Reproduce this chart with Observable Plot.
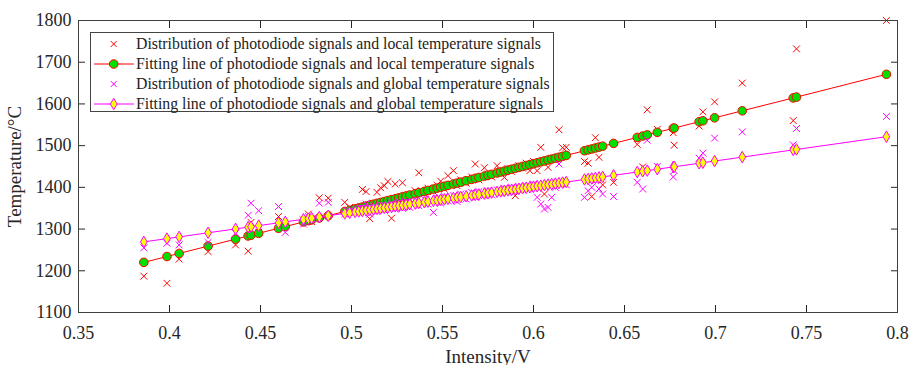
<!DOCTYPE html>
<html><head><meta charset="utf-8">
<script src="https://cdn.jsdelivr.net/npm/d3@7"></script>
<script src="https://cdn.jsdelivr.net/npm/@observablehq/plot@0.6"></script>
<style>
body{margin:0;background:#fff;}
#wrap{position:relative;width:917px;height:365px;font-family:"Liberation Serif","Times New Roman",serif;}
#legend{position:absolute;left:90px;top:32px;width:464px;height:80px;border:1px solid #444;background:#fff;box-sizing:border-box;}
.row{position:absolute;left:0;height:20px;display:flex;align-items:center;font-size:15.8px;color:#222;white-space:nowrap;}
.row svg{width:45px;height:20px;flex:none;}
</style>
</head><body>
<div id="wrap"></div>
<script>
const seriesNames = [
  "Distribution of photodiode signals and local temperature signals",
  "Fitting line of photodiode signals and local temperature signals",
  "Distribution of photodiode signals and global temperature signals",
  "Fitting line of photodiode signals and global temperature signals"
];
const xTicks = [0.35,0.4,0.45,0.5,0.55,0.6,0.65,0.7,0.75,0.8];
const xTickLabels = ["0.35","0.4","0.45","0.5","0.55","0.6","0.65","0.7","0.75","0.8"];
const yTicks = [1100,1200,1300,1400,1500,1600,1700,1800];
const yTickLabels = ["1100","1200","1300","1400","1500","1600","1700","1800"];

const intensity = [0.3859,0.3986,0.4053,0.4212,0.4363,0.4432,0.4448,0.4490,0.4599,0.4636,0.4736,0.4763,0.4781,0.4823,0.4872,0.4963,
0.499,0.502,0.504,0.506,0.508,0.510,0.512,0.514,0.516,0.518,
0.520,0.522,0.524,0.526,0.528,0.530,0.532,0.535,0.537,0.540,
0.542,0.545,0.547,0.549,0.551,0.553,0.556,0.558,0.560,0.563,
0.566,0.568,0.570,0.573,0.575,0.577,0.580,0.582,0.584,0.586,
0.588,0.590,0.592,0.594,0.596,0.598,0.600,0.602,0.604,0.606,
0.608,0.610,0.612,0.614,0.616,0.618,
0.628,0.630,0.632,0.634,0.636,0.638,0.644,
0.657,0.660,0.6625,0.668,0.6768,0.6773,0.691,0.6931,0.6995,0.7147,0.7427,0.7445,0.7939];

const localTemp = [1187,1170,1228,1246,1262,1247,1316,1292,1330,1305,1322,1336,1318,1375,1374,1364,
1352,1346,1340,1395,1390,1325,1362,1388,1399,1404,
1414,1326,1408,1370,1411,1380,1372,1392,1435,1385,
1398,1390,1405,1415,1396,1428,1440,1404,1418,1410,
1425,1456,1418,1447,1432,1425,1452,1440,1424,1445,
1438,1380,1452,1446,1458,1440,1462,1440,1496,1384,
1448,1470,1466,1538,1495,1496,
1462,1458,1378,1519,1472,1406,1412,
1503,1449,1586,1539,1531,1501,1547,1581,1605,1650,1560,1732,1800];

const localFit = [1220.2,1234.2,1241.6,1259.2,1275.9,1283.5,1285.3,1289.9,1301.9,1306.0,1317.1,1320.1,1322.0,1326.7,1332.1,1342.2,
1345.1,1348.5,1350.7,1352.9,1355.1,1357.3,1359.5,1361.7,1363.9,1366.1,
1368.3,1370.5,1372.7,1375.0,1377.2,1379.4,1381.6,1384.9,1387.1,1390.4,
1392.6,1395.9,1398.2,1400.4,1402.6,1404.8,1408.1,1410.3,1412.5,1415.9,
1419.2,1421.4,1423.6,1426.9,1429.1,1431.3,1434.6,1436.9,1439.1,1441.3,
1443.5,1445.7,1447.9,1450.1,1452.3,1454.5,1456.7,1458.9,1461.2,1463.4,
1465.6,1467.8,1470.0,1472.2,1474.4,1476.6,
1487.7,1489.9,1492.1,1494.3,1496.5,1498.7,1505.4,
1519.7,1523.0,1525.8,1531.9,1541.6,1542.2,1557.3,1559.6,1566.7,1583.5,1614.4,1616.4,1671.0];

const globalTemp = [1255,1266,1262,1268,1290,1333,1362,1344,1354,1292,1312,1330,1325,1362,1364,1336,
1340,1344,1350,1352,1360,1336,1355,1342,1358,1345,
1356,1362,1348,1365,1350,1366,1352,1368,1356,1372,
1360,1340,1375,1362,1378,1368,1380,1366,1384,1372,
1388,1376,1390,1380,1392,1382,1394,1386,1398,1388,
1400,1392,1402,1394,1404,1396,1408,1376,1360,1348,
1352,1376,1400,1456,1412,1406,
1376,1392,1400,1416,1396,1384,1378,
1412,1396,1513,1450,1425,1440,1470,1482,1518,1533,1502,1541,1570];

const globalFit = [1269.3,1277.1,1281.2,1291.1,1300.4,1304.7,1305.7,1308.3,1315.0,1317.3,1323.5,1325.1,1326.2,1328.8,1331.9,1337.5,
1339.1,1341.0,1342.2,1343.5,1344.7,1345.9,1347.2,1348.4,1349.7,1350.9,
1352.1,1353.4,1354.6,1355.8,1357.1,1358.3,1359.5,1361.4,1362.6,1364.5,
1365.7,1367.6,1368.8,1370.1,1371.3,1372.5,1374.4,1375.6,1376.8,1378.7,
1380.6,1381.8,1383.0,1384.9,1386.1,1387.4,1389.2,1390.4,1391.7,1392.9,
1394.2,1395.4,1396.6,1397.9,1399.1,1400.3,1401.6,1402.8,1404.0,1405.3,
1406.5,1407.8,1409.0,1410.2,1411.5,1412.7,
1418.9,1420.1,1421.4,1422.6,1423.8,1425.1,1428.8,
1436.8,1438.7,1440.2,1443.6,1449.0,1449.3,1457.8,1459.1,1463.1,1472.5,1489.8,1490.9,1521.4];

const RED = "#ff0000", MAG = "#ff00ff", GREEN = "#00e000", YEL = "#ffff00";
const table = intensity.map((x, i) => ({x, local: localTemp[i], localFit: localFit[i], global: globalTemp[i], globalFit: globalFit[i]}));

const fmtX = d => xTickLabels[xTicks.indexOf(d)];
const fmtY = d => yTickLabels[yTicks.indexOf(d)];

const chart = Plot.plot({
  width: 917, height: 365,
  marginLeft: 78, marginRight: 20, marginTop: 20, marginBottom: 53,
  x: {domain: [0.35, 0.8]},
  y: {domain: [1100, 1800]},
  style: {fontFamily: "'Liberation Serif','Times New Roman',serif", fontSize: "18px", color: "#262626", background: "#fff"},
  marks: [
    Plot.axisX(xTicks, {anchor: "bottom", tickSize: 0, tickPadding: 14, tickFormat: fmtX, fontSize: 18, label: null}),
    Plot.axisX(xTicks, {anchor: "bottom", tickSize: -7, fill: "none", label: null}),
    Plot.axisX({anchor: "bottom", ticks: [], label: "Intensity/V", labelAnchor: "center", labelOffset: 50, labelArrow: "none", fontSize: 19}),
    Plot.axisX(xTicks, {anchor: "top", tickSize: -7, fill: "none", label: null}),
    Plot.axisY(yTicks, {anchor: "left", tickSize: 0, tickPadding: 7, tickFormat: fmtY, fontSize: 18, label: null}),
    Plot.axisY(yTicks, {anchor: "left", tickSize: -7, fill: "none", label: null}),
    Plot.axisY({anchor: "left", ticks: [], label: "Temperature/°C", labelAnchor: "center", labelOffset: 71, labelArrow: "none", fontSize: 19}),
    Plot.axisY(yTicks, {anchor: "right", tickSize: -7, fill: "none", label: null}),
    Plot.dot(table, {x: "x", y: "local", symbol: "times", r: 3.2, stroke: RED, strokeWidth: 1}),
    Plot.line(table, {x: "x", y: "localFit", stroke: RED, strokeWidth: 1}),
    Plot.dot(table, {x: "x", y: "localFit", r: 4.3, fill: GREEN, stroke: RED, strokeWidth: 1}),
    Plot.dot(table, {x: "x", y: "global", symbol: "times", r: 3.2, stroke: MAG, strokeWidth: 1}),
    Plot.line(table, {x: "x", y: "globalFit", stroke: MAG, strokeWidth: 1}),
    Plot.dot(table, {x: "x", y: "globalFit", symbol: "diamond", r: 3.5, fill: YEL, stroke: MAG, strokeWidth: 1}),
    Plot.frame({stroke: "#404040"})
  ]
});
const wrap = document.getElementById("wrap");
wrap.appendChild(chart);

// legend
const legend = document.createElement("div");
legend.id = "legend";
const symbols = [
  `<line x1="19.7" y1="7" x2="25.7" y2="13" stroke="${RED}"/><line x1="25.7" y1="7" x2="19.7" y2="13" stroke="${RED}"/>`,
  `<line x1="3" y1="10" x2="43" y2="10" stroke="${RED}"/><circle cx="22.7" cy="10" r="4.3" fill="${GREEN}" stroke="${RED}"/>`,
  `<line x1="19.7" y1="7" x2="25.7" y2="13" stroke="${MAG}"/><line x1="25.7" y1="7" x2="19.7" y2="13" stroke="${MAG}"/>`,
  `<line x1="3" y1="10" x2="43" y2="10" stroke="${MAG}"/><path d="M22.7,4.3L26.1,10L22.7,15.7L19.3,10Z" fill="${YEL}" stroke="${MAG}"/>`
];
const tops = [1.3, 21.3, 41.3, 60.7];
seriesNames.forEach((name, i) => {
  const row = document.createElement("div");
  row.className = "row";
  row.style.top = tops[i] + "px";
  row.innerHTML = `<svg viewBox="0 0 45 20">${symbols[i]}</svg><span></span>`;
  row.querySelector("span").textContent = name;
  legend.appendChild(row);
});
wrap.appendChild(legend);
</script>
</body></html>
